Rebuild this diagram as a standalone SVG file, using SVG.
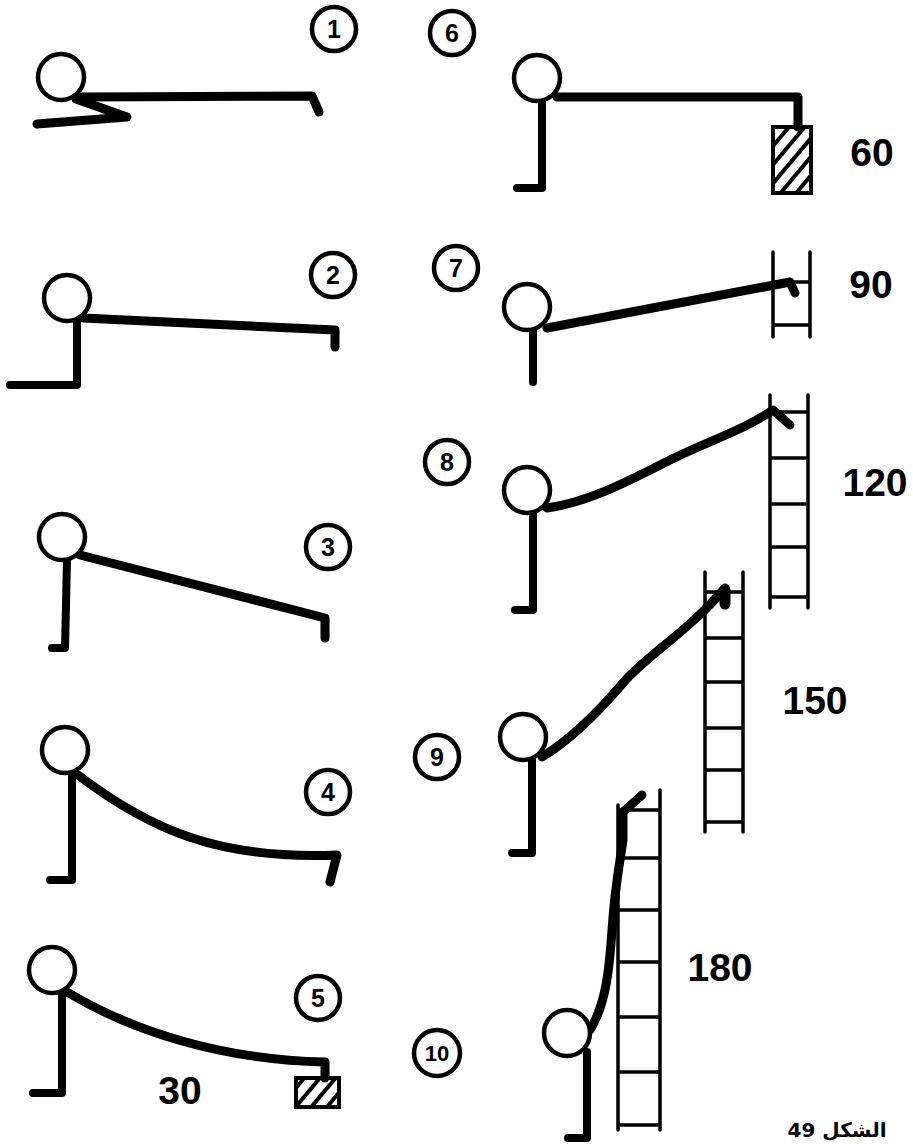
<svg xmlns="http://www.w3.org/2000/svg" width="913" height="1144" viewBox="0 0 913 1144">
  <style>
    .limb { fill: none; stroke: #000; stroke-width: 8; stroke-linecap: round; stroke-linejoin: round; }
    .arm { fill: none; stroke: #000; stroke-width: 9; stroke-linecap: round; stroke-linejoin: round; }
    .head { fill: #fff; stroke: #000; stroke-width: 4.5; }
    .rail { fill: none; stroke: #000; stroke-width: 3.5; stroke-linecap: round; }
    .tag circle { fill: #fff; stroke: #000; stroke-width: 4.5; }
    .tag text { font-family: "Liberation Sans", Arial, sans-serif; font-weight: bold; font-size: 25px; text-anchor: middle; }
    .angle { font-family: "Liberation Sans", Arial, sans-serif; font-weight: bold; font-size: 39px; text-anchor: middle; }
    .caption { font-family: "DejaVu Sans", "Noto Sans", sans-serif; font-weight: bold; font-size: 20px; text-anchor: middle; }
    .box { stroke: #000; stroke-width: 4; }
  </style>
  <defs>
    <pattern id="hatch" width="12" height="12" patternUnits="userSpaceOnUse" patternTransform="rotate(40)">
      <rect width="12" height="12" fill="#fff"/>
      <line x1="0" y1="0" x2="0" y2="12" stroke="#000" stroke-width="8"/>
    </pattern>
  </defs>

  <!-- Weights and ladders -->
  <g id="equipment">
    <rect class="box" x="773" y="127" width="38" height="66" fill="url(#hatch)"/>
    <rect class="box" x="296" y="1078" width="43" height="29" fill="url(#hatch)"/>
    <!-- ladder 7 -->
    <path class="rail" d="M773,252 V337 M810,252 V337 M773,282 H810 M773,325 H810"/>
    <!-- ladder 8 -->
    <path class="rail" d="M770,395 V608 M808,395 V608 M770,412 H808 M770,458 H808 M770,504 H808 M770,547 H808 M770,597 H808"/>
    <!-- ladder 9 -->
    <path class="rail" d="M705,572 V832 M743,572 V832 M705,592 H743 M705,638 H743 M705,682 H743 M705,728 H743 M705,770 H743 M705,822 H743"/>
    <!-- ladder 10 -->
    <path class="rail" d="M618,805 V1130 M660,790 V1130 M618,810 H660 M618,858 H660 M618,910 H660 M618,962 H660 M618,1017 H660 M618,1072 H660 M618,1125 H660"/>
  </g>

  <!-- Stretch figures: body, foot and reaching arm -->
  <g id="connectors">
    <path class="arm" d="M76,99 L127,117 L37,124"/>
    <path class="arm" d="M82,97 L312,96 L319,112"/>

    <path class="limb" d="M10,385 H77 V320"/>
    <path class="arm" d="M83,318 L335,330 V347"/>

    <path class="limb" d="M52,648 H65 L67,560"/>
    <path class="arm" d="M80,555 L325,618 V638"/>

    <path class="limb" d="M50,880 H72 V773"/>
    <path class="arm" d="M78,775 C150,830 220,860 337,855 L330,882"/>

    <path class="limb" d="M33,1093 H62 V993"/>
    <path class="arm" d="M67,992 C130,1030 220,1060 325,1062 V1078"/>

    <path class="limb" d="M517,188 H542 V100"/>
    <path class="arm" d="M557,97 H798 V127"/>

    <path class="limb" d="M533,330 V382"/>
    <path class="arm" d="M547,328 L790,282 L795,293"/>

    <path class="limb" d="M515,610 H533 V513"/>
    <path class="arm" d="M547,508 C590,502 630,480 670,460 S740,432 773,410 L790,425"/>

    <path class="limb" d="M512,853 H532 V760"/>
    <path class="arm" d="M542,757 C570,740 600,710 623,683 S690,630 725,588"/>
    <path class="arm" d="M725,590 V604" style="stroke-width:11"/>

    <path class="limb" d="M568,1138 H587 V1052"/>
    <path class="arm" d="M590,1030 C605,1005 609,975 612,930 C615,885 620,862 623,840 V812 L642,795"/>
  </g>

  <!-- Heads -->
  <g id="heads">
    <circle class="head" cx="61" cy="77" r="23"/>
    <circle class="head" cx="67" cy="298" r="23"/>
    <circle class="head" cx="62" cy="537" r="23"/>
    <circle class="head" cx="65" cy="750" r="23"/>
    <circle class="head" cx="52" cy="970" r="23"/>
    <circle class="head" cx="537" cy="78" r="23"/>
    <circle class="head" cx="527" cy="307" r="23"/>
    <circle class="head" cx="527" cy="490" r="23"/>
    <circle class="head" cx="523" cy="737" r="23"/>
    <circle class="head" cx="567" cy="1033" r="23"/>
  </g>

  <!-- Step numbers -->
  <g id="n1" class="tag"><circle cx="334" cy="29" r="22"/><text x="334" y="38">1</text></g>
  <g id="n2" class="tag"><circle cx="333" cy="275" r="22"/><text x="333" y="284">2</text></g>
  <g id="n3" class="tag"><circle cx="328" cy="547" r="22"/><text x="328" y="556">3</text></g>
  <g id="n4" class="tag"><circle cx="328" cy="792" r="22"/><text x="328" y="801">4</text></g>
  <g id="n5" class="tag"><circle cx="318" cy="998" r="22"/><text x="318" y="1007">5</text></g>
  <g id="n6" class="tag"><circle cx="452" cy="33" r="22"/><text x="452" y="42">6</text></g>
  <g id="n7" class="tag"><circle cx="456" cy="268" r="22"/><text x="456" y="277">7</text></g>
  <g id="n8" class="tag"><circle cx="447" cy="462" r="22"/><text x="447" y="471">8</text></g>
  <g id="n9" class="tag"><circle cx="437" cy="757" r="22"/><text x="437" y="766">9</text></g>
  <g id="n10" class="tag"><circle cx="437" cy="1053" r="23"/><text x="437" y="1061" style="font-size:22px">10</text></g>

  <!-- Angle values -->
  <g id="angles">
    <text class="angle" x="180" y="1104">30</text>
    <text class="angle" x="872" y="166">60</text>
    <text class="angle" x="871" y="298">90</text>
    <text class="angle" x="875" y="496">120</text>
    <text class="angle" x="815" y="714">150</text>
    <text class="angle" x="720" y="981">180</text>
  </g>

  <g id="caption">
    <text class="caption" x="837" y="1137">الشكل 49</text>
  </g>
</svg>
